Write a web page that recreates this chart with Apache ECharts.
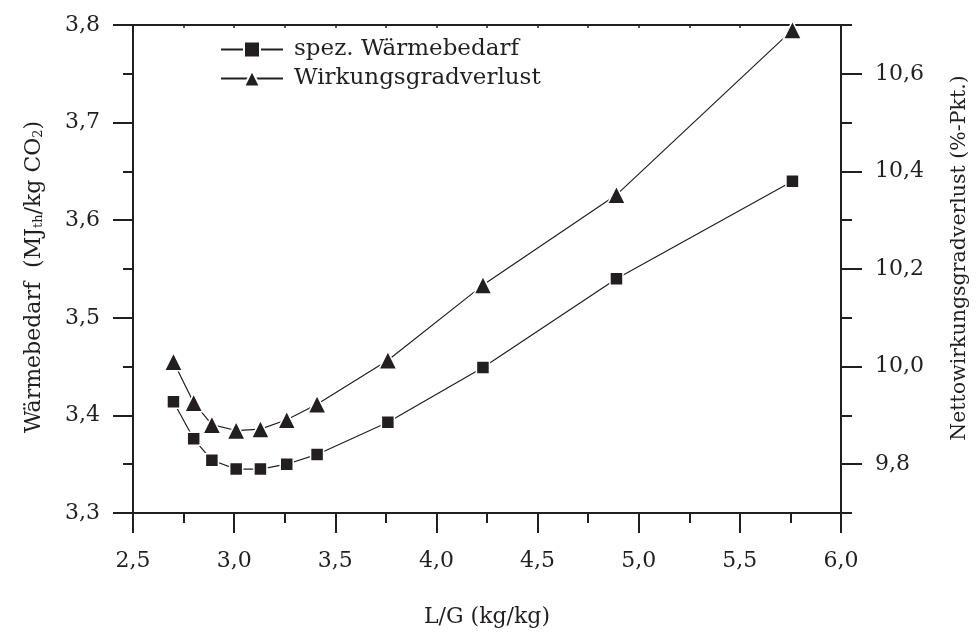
<!DOCTYPE html>
<html><head><meta charset="utf-8">
<script src="https://cdn.jsdelivr.net/npm/echarts@6/dist/echarts.min.js"></script>
<style>html,body{margin:0;padding:0;background:#fff}#c{width:978px;height:633px}</style>
</head><body><div id="c"></div>
<script>
const lgRatio = [2.70, 2.80, 2.89, 3.01, 3.13, 3.26, 3.41, 3.76, 4.23, 4.89, 5.76];
const waermebedarf = [3.414, 3.376, 3.354, 3.345, 3.345, 3.350, 3.360, 3.393, 3.449, 3.540, 3.640];
const wirkungsgradverlust = [10.010, 9.926, 9.881, 9.869, 9.872, 9.891, 9.923, 10.013, 10.167, 10.352, 10.690];
const rightMajorTicks = [9.8, 10.0, 10.2, 10.4, 10.6];
const seriesNames = ['spez. Wärmebedarf', 'Wirkungsgradverlust'];

const ink = '#231f20';
const font = 'DejaVu Serif, Liberation Serif, serif';
const comma = v => v.toFixed(1).replace('.', ',');

const chart = echarts.init(document.getElementById('c'), null, {renderer: 'canvas'});
const axisLine = {show: true, onZero: false, lineStyle: {color: ink, width: 2}};
chart.setOption({
  animation: false,
  backgroundColor: '#fff',
  grid: {left: 133, right: 134, top: 25, bottom: 120},
  legend: {
    left: 220, top: 38, orient: 'vertical', itemGap: 6, padding: 0,
    itemWidth: 62, itemHeight: 20,
    textStyle: {fontFamily: font, fontSize: 23, color: ink, padding: [0, 0, 0, 6]},
    data: seriesNames
  },
  xAxis: [{
    type: 'value', min: 2.5, max: 6.0, interval: 0.5,
    name: 'L/G (kg/kg)', nameLocation: 'middle', nameGap: 93,
    nameTextStyle: {fontFamily: font, fontSize: 22, color: ink},
    axisLine: axisLine,
    axisTick: {show: true, inside: false, length: 20, lineStyle: {color: ink, width: 2}},
    minorTick: {show: true, splitNumber: 2, length: 10, lineStyle: {color: ink, width: 2}},
    axisLabel: {fontFamily: font, fontSize: 22, color: ink, margin: 37, formatter: comma},
    splitLine: {show: false}
  }, {
    type: 'value', position: 'top', min: 2.5, max: 6.0, interval: 0.25,
    axisLine: axisLine,
    axisTick: {show: true, inside: true, length: 3, lineStyle: {color: ink, width: 1.5}},
    axisLabel: {show: false}, splitLine: {show: false}
  }],
  yAxis: [{
    type: 'value', min: 3.3, max: 3.8, interval: 0.1, position: 'left',
    name: 'Wärmebedarf  (MJ{s|th}/kg CO{s|2})', nameLocation: 'middle', nameGap: 88,
    nameTextStyle: {fontFamily: font, fontSize: 22, color: ink, padding: [0, 16, 0, 0],
      rich: {s: {fontFamily: font, fontSize: 13, color: ink, verticalAlign: 'bottom', padding: [9, 0, 0, 0]}}},
    axisLine: axisLine,
    axisTick: {show: true, inside: false, length: 20, lineStyle: {color: ink, width: 2}},
    minorTick: {show: true, splitNumber: 2, length: 10, lineStyle: {color: ink, width: 2}},
    axisLabel: {fontFamily: font, fontSize: 22, color: ink, margin: 33, formatter: comma},
    splitLine: {show: false}
  }, {
    type: 'value', min: 9.7, max: 10.7, interval: 0.1, position: 'right',
    name: 'Nettowirkungsgradverlust (%-Pkt.)', nameLocation: 'middle', nameGap: 108,
    nameTextStyle: {fontFamily: font, fontSize: 20.5, color: ink, padding: [0, 0, 0, 22]},
    axisLine: axisLine,
    axisTick: {show: true, inside: false, length: 11, lineStyle: {color: ink, width: 2}},
    axisLabel: {fontFamily: font, fontSize: 22, color: ink, margin: 34,
      formatter: v => (Math.round(v * 10) % 2 === 0 ? comma(v) : '')},
    splitLine: {show: false}
  }, {
    type: 'value', min: 9.7, max: 10.7, position: 'right',
    axisLine: axisLine,
    axisTick: {show: true, inside: false, length: 21, customValues: rightMajorTicks, lineStyle: {color: ink, width: 2}},
    axisLabel: {show: false}, splitLine: {show: false}
  }],
  series: [{
    name: seriesNames[0], type: 'line', xAxisIndex: 0, yAxisIndex: 0,
    data: lgRatio.map((x, i) => [x, waermebedarf[i]]),
    symbol: 'rect', symbolSize: 13,
    lineStyle: {color: ink, width: 1.2},
    itemStyle: {color: ink, borderColor: '#fff', borderWidth: 1.5}
  }, {
    name: seriesNames[1], type: 'line', xAxisIndex: 0, yAxisIndex: 1,
    data: lgRatio.map((x, i) => [x, wirkungsgradverlust[i]]),
    symbol: 'triangle', symbolSize: 18,
    lineStyle: {color: ink, width: 1.2},
    itemStyle: {color: ink, borderColor: '#fff', borderWidth: 1.5}
  }]
});
</script>
</body></html>
